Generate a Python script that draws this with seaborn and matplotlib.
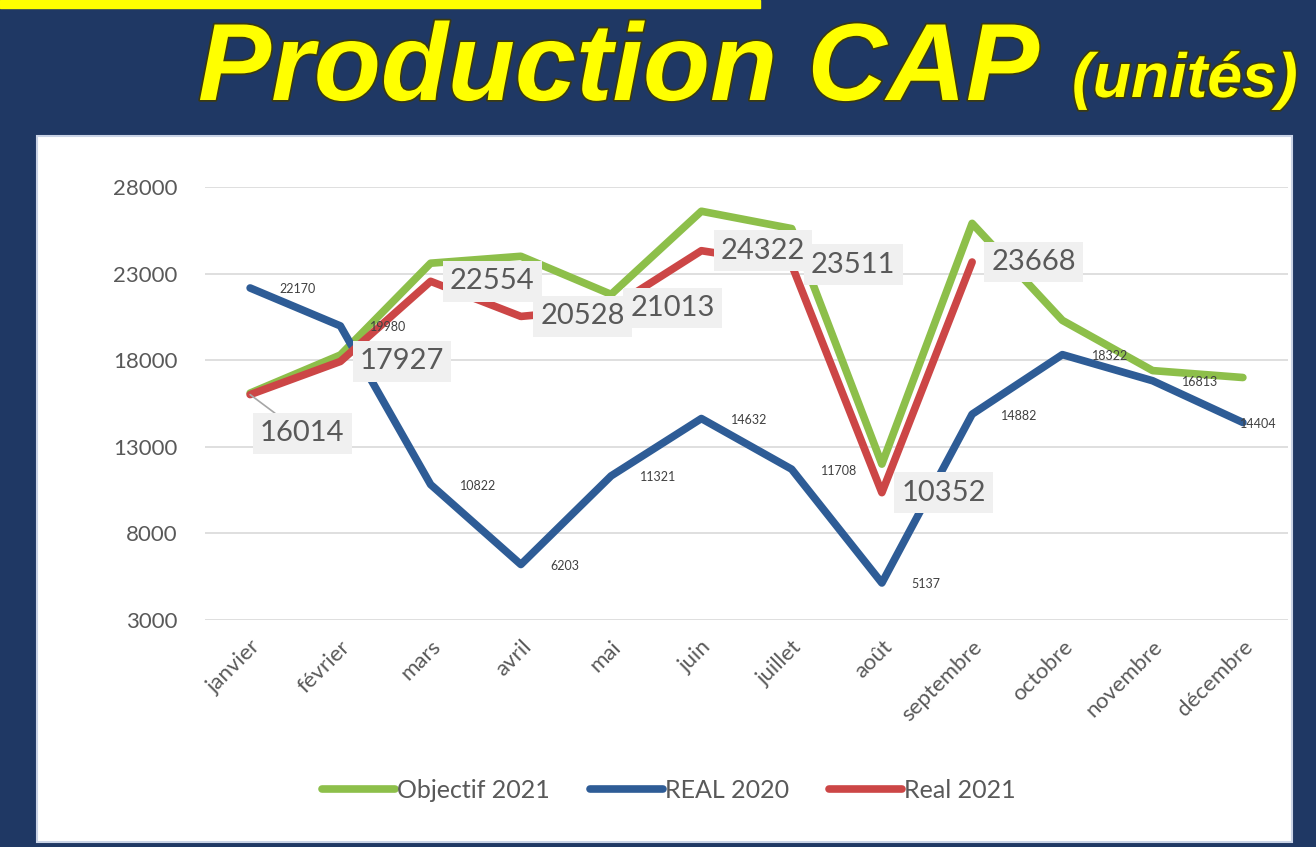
import pandas as pd
import matplotlib.pyplot as plt
import matplotlib.patches as mpatches
import matplotlib.patheffects as pe
import seaborn as sns

# données
mois = ['janvier', 'février', 'mars', 'avril', 'mai', 'juin', 'juillet',
        'août', 'septembre', 'octobre', 'novembre', 'décembre']
objectif_2021 = [16100, 18300, 23600, 24000, 21800, 26600, 25600,
                 12000, 25900, 20300, 17400, 17000]
real_2020 = [22170, 19980, 10822, 6203, 11321, 14632, 11708,
             5137, 14882, 18322, 16813, 14404]
real_2021 = [16014, 17927, 22554, 20528, 21013, 24322, 23511,
             10352, 23668, None, None, None]
series = ['Objectif 2021', 'REAL 2020', 'Real 2021']
couleurs = ['#8dbf4a', '#2e5c96', '#cc4646']
y_ticks = [3000, 8000, 13000, 18000, 23000, 28000]

df = pd.DataFrame({
    'mois': mois * 3,
    'valeur': objectif_2021 + real_2020 + real_2021,
    'serie': [s for s in series for _ in mois],
})
df['x'] = list(range(len(mois))) * 3
df = df.dropna()

sns.set_style('white')
plt.rcParams['font.family'] = ['Lato', 'DejaVu Sans']

navy = '#1f3864'
fig = plt.figure(figsize=(13.16, 8.47), dpi=100)
fig.patch.set_facecolor(navy)

# bande jaune en haut et panneau blanc
fig.patches.append(mpatches.Rectangle((0, 1 - 8 / 847), 760 / 1316, 8 / 847,
                                      transform=fig.transFigure, color='#ffff00', zorder=-10))
fig.patches.append(mpatches.Rectangle((37 / 1316, 5 / 847), (1292 - 37) / 1316, (841 - 135) / 847,
                                      transform=fig.transFigure, facecolor='white',
                                      edgecolor='#c9d3e6', linewidth=1.5, zorder=-10))

# titre
t1 = fig.text(198 / 1316, 1 - 100 / 847, 'Production CAP', color='#ffff00', fontsize=79,
              fontweight='bold', fontstyle='italic', family='Liberation Sans', ha='left',
              va='baseline')
t2 = fig.text(1072 / 1316, 1 - 97 / 847, '(unités)', color='#ffff00', fontsize=45,
              fontweight='bold', fontstyle='italic', family='Liberation Sans', ha='left',
              va='baseline')
for t in (t1, t2):
    t.set_path_effects([pe.withStroke(linewidth=2.5, foreground='#3a3a10')])

ax = fig.add_axes([205 / 1316, 1 - 620 / 847, 1083 / 1316, 433 / 847])
ax.set_facecolor('none')
ax.set_zorder(5)

sns.lineplot(data=df, x='x', y='valeur', hue='serie', hue_order=series,
             palette=couleurs, linewidth=5.5, ax=ax, legend=False, sort=False)

ax.set_xlim(-0.5, len(mois) - 0.5)
ax.set_ylim(3000, 28000)
ax.set_yticks(y_ticks)
ax.set_yticklabels([str(v) for v in y_ticks], color='#595959', fontsize=16)
ax.set_xticks(range(len(mois)))
ax.set_xticklabels(mois, rotation=45, ha='right', rotation_mode='anchor',
                   color='#595959', fontsize=16)
ax.tick_params(axis='y', length=0, pad=20)
ax.tick_params(axis='x', length=0, pad=12)
ax.yaxis.grid(True, color='#d9d9d9', linewidth=1.2)
ax.set_axisbelow(True)
for s in ax.spines.values():
    s.set_visible(False)
ax.set_xlabel('')
ax.set_ylabel('')

# étiquettes REAL 2020 (petites)
for i, v in enumerate(real_2020):
    dx = 21 if i < len(real_2020) - 1 else -2
    ax.annotate(str(v), (i, v), xytext=(dx, -1), textcoords='offset points',
                ha='left', va='center', fontsize=9, color='#404040')

# étiquettes Real 2021 (grandes, avec fond gris)
for i, v in enumerate(real_2021):
    if v is None:
        continue
    if i == 0:
        ax.annotate(str(v), (i, v), xytext=(7, -28), textcoords='offset points',
                    ha='left', va='center', fontsize=21, color='#595959',
                    bbox=dict(boxstyle='square,pad=0.25', fc='#f0f0f0', ec='none'),
                    arrowprops=dict(arrowstyle='-', color='#a6a6a6', lw=1.2,
                                    shrinkA=0, shrinkB=0))
    else:
        ax.annotate(str(v), (i, v), xytext=(14, 0), textcoords='offset points',
                    ha='left', va='center', fontsize=21, color='#595959',
                    bbox=dict(boxstyle='square,pad=0.25', fc='#f0f0f0', ec='none'))

# légende
handles = [plt.Line2D([], [], color=c, linewidth=5.5, solid_capstyle='round') for c in couleurs]
fig.legend(handles, series, loc='center', bbox_to_anchor=(669 / 1316, 1 - 790 / 847),
           ncol=3, frameon=False, fontsize=18, handlelength=2.9, handletextpad=0.1,
           columnspacing=1.6, labelcolor='#595959')

fig.savefig('out.png', dpi=100, facecolor=navy)
